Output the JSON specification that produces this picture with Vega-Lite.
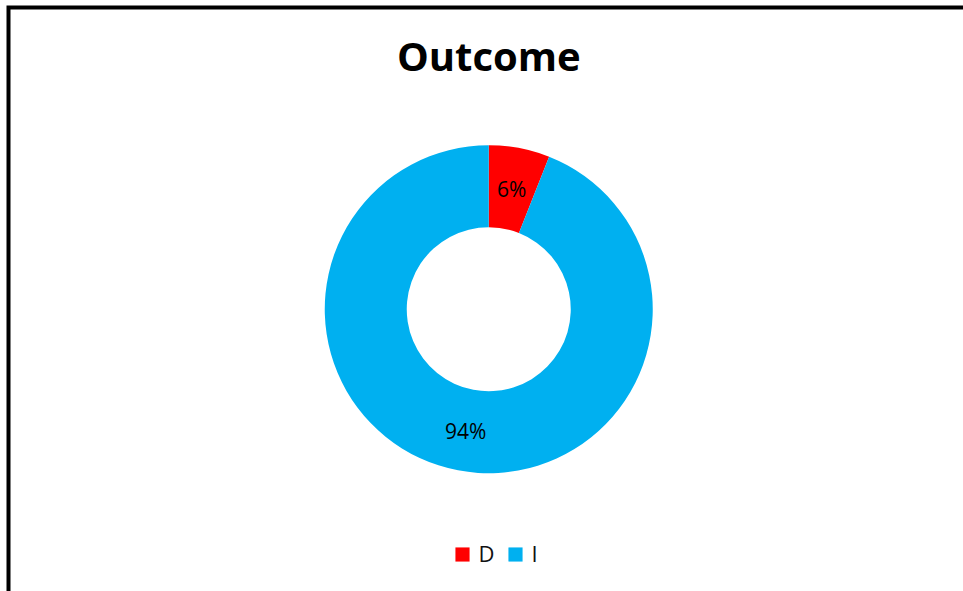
{
  "$schema": "https://vega.github.io/schema/vega-lite/v6.json",
  "width": 963,
  "height": 591,
  "autosize": {"type": "fit", "contains": "padding"},
  "padding": {"left": 8.5, "top": 7.5, "right": -6, "bottom": -20},
  "background": "white",
  "view": {"stroke": "black", "strokeWidth": 4, "fill": "white"},
  "config": {
    "view": {"stroke": "black", "strokeWidth": 4},
    "font": "Open Sans"
  },
  "title": {
    "text": "Outcome",
    "font": "Open Sans",
    "fontSize": 40,
    "fontWeight": "bold",
    "color": "black",
    "anchor": "middle",
    "baseline": "middle",
    "offset": -91.5
  },
  "data": {
    "values": [
      {"outcome": "D", "value": 6, "label": "6%"},
      {"outcome": "I", "value": 94, "label": "94%"}
    ]
  },
  "encoding": {
    "theta": {"field": "value", "type": "quantitative", "stack": true},
    "order": {"field": "outcome", "type": "nominal", "sort": "ascending"}
  },
  "layer": [
    {
      "mark": {"type": "arc", "innerRadius": 82, "outerRadius": 164},
      "encoding": {
        "color": {
          "field": "outcome",
          "type": "nominal",
          "scale": {"domain": ["D", "I"], "range": ["#FF0000", "#00B0F0"]},
          "legend": {
            "title": null,
            "orient": "none",
            "direction": "horizontal",
            "legendX": 443,
            "legendY": 536,
            "padding": 0,
            "symbolType": "square",
            "symbolSize": 200,
            "symbolStrokeWidth": 0,
            "symbolOpacity": 1,
            "labelFont": "Open Sans",
            "labelFontSize": 22,
            "labelColor": "#111111",
            "labelOffset": 5,
            "columnPadding": 10
          }
        }
      }
    },
    {
      "mark": {"type": "text", "radius": 123, "dy": 3, "font": "Open Sans", "fontSize": 21, "color": "black"},
      "encoding": {
        "text": {"field": "label", "type": "nominal"}
      }
    }
  ]
}
